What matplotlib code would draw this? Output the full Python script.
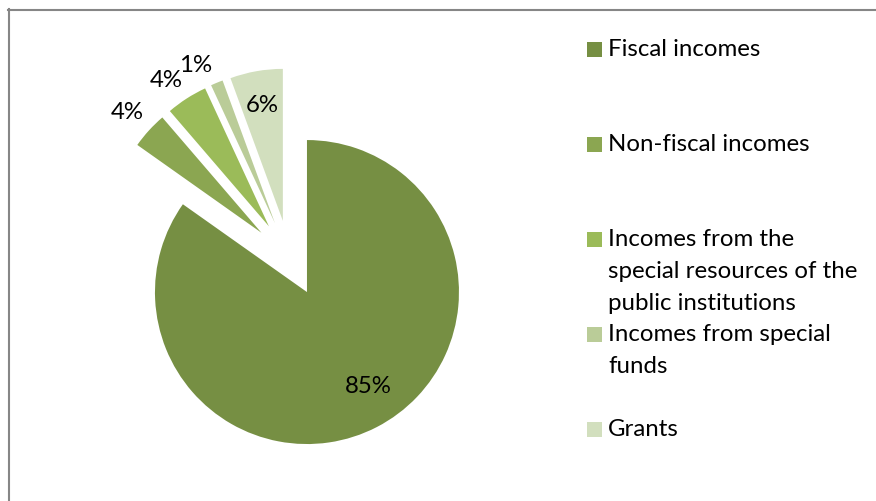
import matplotlib
matplotlib.use("Agg")
import matplotlib.pyplot as plt
import matplotlib.transforms as mtransforms
from matplotlib.patches import Rectangle
from matplotlib.lines import Line2D
import numpy as np

# Revenue structure (shares in %)
categories = [
    "Fiscal incomes",
    "Non-fiscal incomes",
    "Incomes from the\nspecial resources of the\npublic institutions",
    "Incomes from special\nfunds",
    "Grants",
]
shares = [84.8, 3.9, 4.4, 1.3, 5.6]
colors = ["#768F43", "#8BA651", "#9BBB59", "#BACC98", "#D2DFBE"]

W, H = 876, 501
DPI = 100
FONT = "Lato"
FS = 17.3

fig = plt.figure(figsize=(W / DPI, H / DPI), dpi=DPI)
fig.patch.set_facecolor("white")

# pixel transform (origin top-left, y downwards)
px = mtransforms.Affine2D().scale(1 / W, -1 / H).translate(0, 1) + fig.transFigure

# pie placement in pixels
cx, cy, R = 289.5, 258.3, 152.0
ax = fig.add_axes([0, 0, 1, 1])
wedges, _ = ax.pie(
    shares,
    colors=colors,
    startangle=90,
    counterclock=False,
    explode=[0.25] * len(shares),
    radius=1.0,
    wedgeprops=dict(linewidth=0),
)
ax.set_xlim(-cx / R, (W - cx) / R)
ax.set_ylim(-(H - cy) / R, cy / R)
ax.set_aspect("auto")
ax.axis("off")

# percentage labels
label_radius = [0.73, 1.19, 1.18, 1.17, 0.78]
label_turn = [6, 0, 2, 4, 0]
for w, val, r, turn in zip(wedges, shares, label_radius, label_turn):
    mid = np.deg2rad((w.theta1 + w.theta2) / 2 + turn)
    x0, y0 = w.center
    x = x0 + r * w.r * np.cos(mid)
    y = y0 + r * w.r * np.sin(mid)
    ax.annotate(
        f"{val:.0f}%", (x, y), xytext=(0, -7.8), textcoords="offset pixels",
        ha="center", va="baseline", fontsize=FS, family=FONT, color="#000000",
    )

# legend
leg_x_box, leg_x_text = 587, 608
first_baseline, step, line_gap, box = 56, 94.9, 32, 15
for i, (name, col) in enumerate(zip(categories, colors)):
    base = first_baseline + i * step
    fig.patches.append(Rectangle((leg_x_box, base + 1 - box), box, box,
                                 transform=px, facecolor=col, edgecolor="none"))
    for j, line in enumerate(name.split("\n")):
        fig.text(leg_x_text, base + j * line_gap, line, transform=px,
                 ha="left", va="baseline", fontsize=FS, family=FONT,
                 color="#000000")

# chart frame
frame_col = "#868686"
fig.lines.append(Line2D([8, W], [9.8, 9.8], transform=px, color=frame_col, lw=1.5))
fig.lines.append(Line2D([8.8, 8.8], [9, H], transform=px, color=frame_col, lw=1.5))

fig.savefig("out.png", dpi=DPI, facecolor="white")
